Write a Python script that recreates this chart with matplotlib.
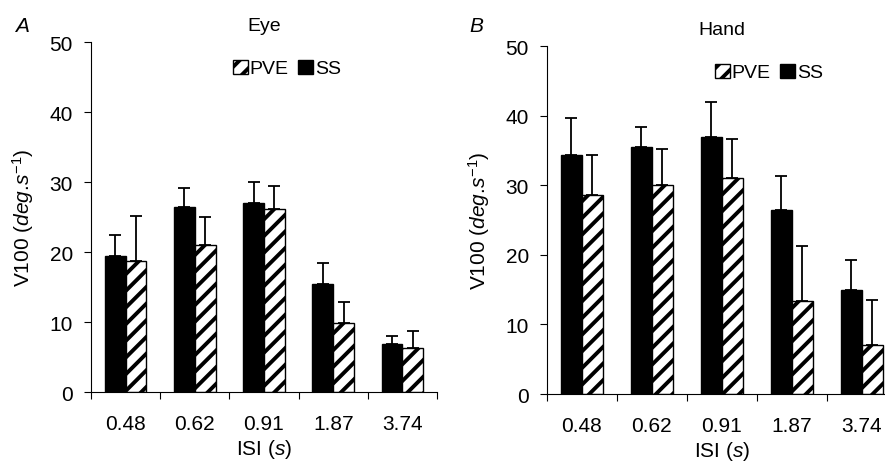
import matplotlib
matplotlib.use("Agg")
import matplotlib.pyplot as plt
import numpy as np
from matplotlib.patches import Patch

plt.rcParams["font.family"] = ["Liberation Sans", "DejaVu Sans"]
plt.rcParams["mathtext.fontset"] = "custom"
plt.rcParams["mathtext.rm"] = "Liberation Sans"
plt.rcParams["mathtext.it"] = "Liberation Sans:italic"
plt.rcParams["hatch.linewidth"] = 2.8

isi_labels = ["0.48", "0.62", "0.91", "1.87", "3.74"]

# Eye (panel A)
eye_ss = [19.4, 26.4, 27.0, 15.5, 6.8]
eye_ss_err = [3.1, 2.8, 3.0, 3.0, 1.2]
eye_pve = [18.7, 21.0, 26.2, 9.8, 6.3]
eye_pve_err = [6.4, 4.0, 3.2, 3.1, 2.4]

# Hand (panel B)
hand_ss = [34.4, 35.5, 36.9, 26.4, 14.9]
hand_ss_err = [5.3, 2.8, 5.0, 4.9, 4.3]
hand_pve = [28.6, 30.0, 31.1, 13.3, 7.1]
hand_pve_err = [5.7, 5.2, 5.6, 7.9, 6.4]

FS = 15


def draw_panel(ax, ss, ss_err, pve, pve_err, title, legend_x):
    x = np.arange(len(isi_labels)) + 0.5
    w = 0.3
    zeros = np.zeros(len(x))
    ax.bar(x - w / 2, ss, w, color="black", edgecolor="black", linewidth=1, zorder=2)
    ax.bar(x + w / 2, pve, w, color="white", edgecolor="black", hatch="//",
           linewidth=1, zorder=2)
    ax.errorbar(x - w / 2, ss, yerr=[zeros, ss_err], fmt="none", ecolor="black",
                elinewidth=1.3, capsize=4.5, capthick=1.3, zorder=3)
    ax.errorbar(x + w / 2, pve, yerr=[zeros, pve_err], fmt="none", ecolor="black",
                elinewidth=1.3, capsize=4.5, capthick=1.3, zorder=3)

    ax.set_xlim(0, len(isi_labels))
    ax.set_ylim(0, 50)
    ax.set_yticks(range(0, 51, 10))
    ax.set_xticks(x)
    ax.set_xticklabels(isi_labels)
    ax.set_xticks(np.arange(len(isi_labels) + 1), minor=True)
    ax.tick_params(axis="x", which="major", length=0, pad=16, labelsize=FS)
    ax.tick_params(axis="x", which="minor", length=5, width=0.8, direction="out")
    ax.tick_params(axis="y", length=5, width=0.8, pad=8, labelsize=FS)
    for side in ("top", "right"):
        ax.spines[side].set_visible(False)
    for side in ("left", "bottom"):
        ax.spines[side].set_linewidth(0.8)

    ax.set_ylabel(r"V100 ($\mathit{deg}$.$\mathit{s}^{\mathit{-1}}$)", fontsize=FS,
                  labelpad=10)
    ax.set_xlabel(r"ISI ($\mathit{s}$)", fontsize=FS, labelpad=3)
    ax.set_title(title, fontsize=14, pad=9)

    handles = [Patch(facecolor="white", edgecolor="black", hatch="//"),
               Patch(facecolor="black", edgecolor="black")]
    ax.legend(handles, ["PVE", "SS"], ncol=2, frameon=False, fontsize=14,
              handlelength=0.75, handleheight=0.75, handletextpad=0.1,
              columnspacing=0.5, loc="upper left", bbox_to_anchor=(legend_x, 1.0))
    return ax


fig = plt.figure(figsize=(8.85, 4.64), dpi=100)
ax_a = fig.add_axes([0.1028, 0.153, 0.391, 0.7543])
ax_b = fig.add_axes([0.618, 0.1487, 0.3955, 0.75])

draw_panel(ax_a, eye_ss, eye_ss_err, eye_pve, eye_pve_err, "Eye", 0.36)
draw_panel(ax_b, hand_ss, hand_ss_err, hand_pve, hand_pve_err, "Hand", 0.43)

fig.text(0.017, 0.93, "A", fontsize=FS, style="italic")
fig.text(0.53, 0.93, "B", fontsize=FS, style="italic")

fig.savefig("out.png", dpi=100)
